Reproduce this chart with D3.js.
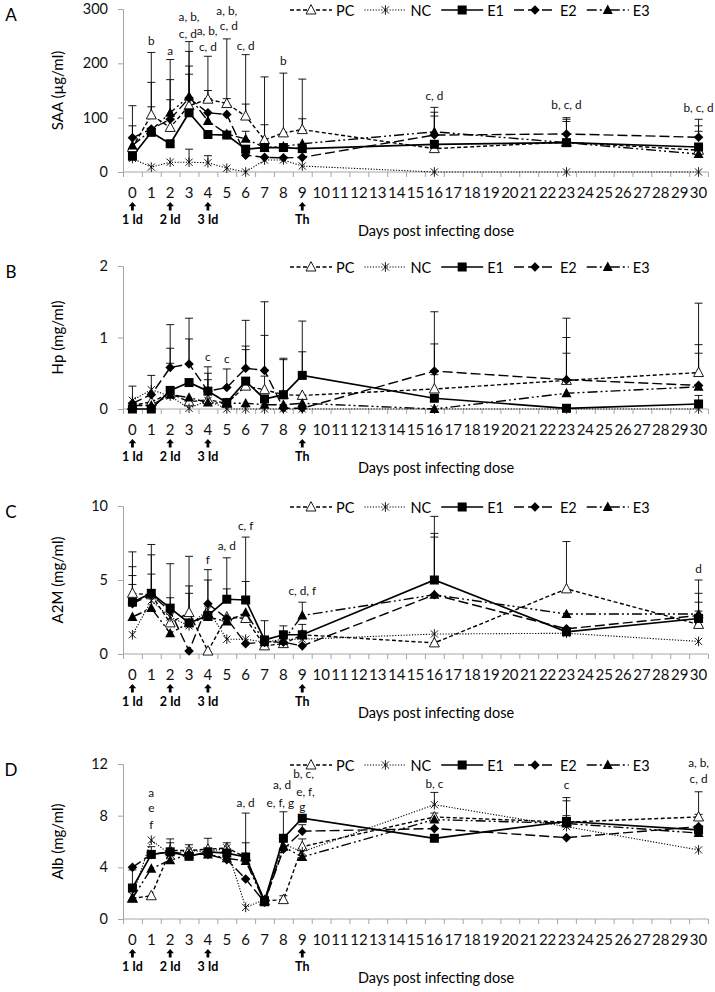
<!DOCTYPE html>
<html><head><meta charset="utf-8">
<script src="https://cdn.jsdelivr.net/npm/d3@7"></script>
<style>
html,body{margin:0;padding:0;background:#fff;}
svg{display:block;font-family:Lato,"Open Sans",sans-serif;}
</style></head>
<body><svg id="c" width="715" height="992"></svg>
<script>
// ---------- DATA ----------
const days = [0,1,2,3,4,5,6,7,8,9,16,23,30];
const allDays = d3.range(0,31);
const seriesNames = ["PC","NC","E1","E2","E3"];
const doseDays = [0,2,4,9];
const doseLabels = ["1 Id","2 Id","3 Id","Th"];
const xTitle = "Days post infecting dose";

// Panel A: SAA (µg/ml)
const saaPC = [45,105,82,122,134,126,103,59,72,78,43,55,40];
const saaNC = [25,9,18,18,17,7,0,22,22,11,0,0,0];
const saaE1 = [29,73,52,109,69,68,42,45,45,43,51,54,46];
const saaE2 = [63,79,97,136,109,106,31,27,26,27,68,70,64];
const saaE3 = [49,77,109,139,94,70,61,45,47,52,74,54,33];
const saaErr = [[0,122],[0,85],[1,220],[1,165],[1,120],[2,207],[2,170],[2,133],
  [3,240],[3,222],[3,195],[3,180],[3,42],[4,213],[4,150],[4,135],[4,30],[5,245],[5,135],
  [6,216],[6,125],[6,75],[7,175],[7,87],[8,182],[9,171],[9,98],
  [16,119],[16,110],[16,103],[23,100],[23,97],[23,93],[30,97],[30,85],[30,75]];
const saaNotes = [[1,"b",242],[2,"a",224],[3,"a, b,",286],[3,"c, d",255],[4,"a, b,",261],[4,"c, d",231],
  [5,"a, b,",298],[5,"c, d",269],[6,"c, d",233],[8,"b",206],[16,"c, d",141],[23,"b, c, d",125],[30,"b, c, d",119]];

// Panel B: Hp (mg/ml)
const hpPC = [0.05,0.1,0.22,0.1,0.13,0.08,0.32,0.27,0.2,0.19,0.28,0.4,0.51];
const hpNC = [0.12,0.27,0.18,0.01,0.12,0,0,0,0,0,0,0,0];
const hpE1 = [0,0,0.26,0.37,0.25,0.09,0.39,0.14,0.2,0.47,0.15,0.01,0.07];
const hpE2 = [0.08,0.2,0.58,0.63,0.25,0.3,0.57,0.54,0.01,0.01,0.53,0.41,0.33];
const hpE3 = [0.05,0.05,0.2,0.16,0.09,0.08,0.08,0.06,0.06,0.08,0,0.22,0.31];
const hpErr = [[0,0.32],[1,0.47],[2,1.18],[2,0.85],[2,0.64],[3,1.27],[3,0.98],[4,0.59],[4,0.5],[4,0.41],
  [5,0.56],[6,1.24],[6,0.88],[6,0.83],[7,1.5],[7,1.03],[7,0.46],[8,0.71],[8,0.69],[9,1.23],[9,0.8],
  [16,1.36],[16,0.91],[16,0.48],[23,1.27],[23,1.0],[23,0.78],[30,1.48],[30,0.9],[30,0.78],[30,0.19]];
const hpNotes = [[4,"c",0.73],[5,"c",0.70]];

// Panel C: A2M (mg/ml)
const a2mPC = [4.1,4.0,2.1,2.8,0.2,2.5,2.4,0.55,0.7,1.3,0.75,4.4,2.0];
const a2mNC = [1.3,3.6,2.5,1.9,3.0,1.0,1.0,0.8,1.0,1.0,1.35,1.4,0.85];
const a2mE1 = [3.5,4.1,3.1,2.1,2.6,3.7,3.65,0.95,1.3,1.3,5.0,1.5,2.4];
const a2mE2 = [3.4,4.0,2.9,0.2,3.4,2.4,0.7,0.8,0.8,0.55,4.0,1.7,2.6];
const a2mE3 = [2.5,3.1,1.4,2.1,2.5,2.2,2.8,0.8,0.9,2.6,4.0,2.7,2.7];
const a2mErr = [[0,6.9],[0,5.9],[0,5.3],[0,4.7],[1,7.4],[1,6.7],[1,5.4],[2,6.1],[2,3.8],[3,6.6],[3,4.6],[3,4.1],
  [4,5.7],[4,5.0],[5,6.5],[5,4.4],[6,7.9],[6,4.9],[7,2.25],[8,1.9],[9,3.5],[9,2.0],
  [16,9.3],[16,8.15],[16,7.9],[23,7.6],[30,5.0],[30,4.1],[30,3.5],[30,2.9]];
const a2mNotes = [[4,"f",6.4],[5,"a, d",7.3],[6,"c, f",8.7],[9,"c, d, f",4.3],[30,"d",5.8]];

// Panel D: Alb (mg/ml)
const albPC = [1.6,1.8,5.3,5.3,5.4,5.5,4.8,1.4,1.5,5.6,7.9,7.5,7.9];
const albNC = [1.8,6.1,5.0,5.3,5.2,5.5,0.9,1.5,5.8,5.2,8.85,7.15,5.35];
const albE1 = [2.4,5.0,5.2,4.85,5.2,5.1,4.8,1.4,6.25,7.8,6.25,7.55,6.9];
const albE2 = [4.0,5.0,5.2,5.0,5.0,4.6,3.1,1.3,5.4,6.8,7.0,6.3,7.15];
const albE3 = [1.6,3.9,4.55,5.0,5.0,4.7,4.5,1.3,5.6,4.8,7.7,7.4,6.65];
const albErr = [[0,3.8],[1,5.6],[2,6.2],[2,5.9],[3,5.75],[4,6.25],[5,5.9],[6,8.2],[6,5.9],[7,1.75],
  [8,8.3],[8,1.8],[9,7.3],[9,6.2],[16,9.8],[16,8.2],[23,9.4],[23,9.15],[23,8.0],[30,9.85],[30,8.1]];
const albNotes = [[1,"a",9.8],[1,"e",8.6],[1,"f",7.35],[6,"a, d",9.0],[8,"a, d",10.4],[8,"e, f, g",9.0],
  [9,"b, c,",11.3],[9,"e, f,",9.9],[9,"g",8.7],[16,"b, c",10.5],[23,"c",10.4],[30,"a, b,",12.1],[30,"c, d",10.9]];

// ---------- LAYOUT ----------
const panels = [
  {label:"A", title:"SAA (µg/ml)", max:300, ticks:[0,100,200,300], top:9, bottom:172,
   series:[saaPC,saaNC,saaE1,saaE2,saaE3], err:saaErr, notes:saaNotes},
  {label:"B", title:"Hp (mg/ml)", max:2, ticks:[0,1,2], top:266, bottom:409,
   series:[hpPC,hpNC,hpE1,hpE2,hpE3], err:hpErr, notes:hpNotes},
  {label:"C", title:"A2M (mg/ml)", max:10, ticks:[0,5,10], top:506, bottom:654,
   series:[a2mPC,a2mNC,a2mE1,a2mE2,a2mE3], err:a2mErr, notes:a2mNotes},
  {label:"D", title:"Alb (mg/ml)", max:12, ticks:[0,4,8,12], top:764, bottom:919,
   series:[albPC,albNC,albE1,albE2,albE3], err:albErr, notes:albNotes}
];

const styles = {
  PC:{dash:"4,2.5", w:1.4, marker:"openTri"},
  NC:{dash:"1.2,1.6", w:1.1, marker:"star"},
  E1:{dash:null, w:1.7, marker:"square"},
  E2:{dash:"10,4", w:1.4, marker:"diamond"},
  E3:{dash:"10,3,2,3,2,3", w:1.4, marker:"tri"}
};

const svg = d3.select("#c");
const X0 = 123, X1 = 708;
const xb = d3.scaleBand().domain(allDays).range([X0,X1]);
const xc = d => xb(d) + xb.bandwidth()/2;
const xEdge = d3.scaleLinear().domain([0,31]).range([X0,X1]);
const axisCol = "#a6a6a6";

function drawMarker(g, type, cx, cy){
  if(type==="square"){
    g.append("rect").attr("x",cx-4.5).attr("y",cy-4.5).attr("width",9).attr("height",9).attr("fill","#000");
  } else if(type==="diamond"){
    g.append("path").attr("d",`M${cx},${cy-4.8}L${cx+4.8},${cy}L${cx},${cy+4.8}L${cx-4.8},${cy}Z`).attr("fill","#000");
  } else if(type==="tri"){
    g.append("path").attr("d",`M${cx},${cy-5.4}L${cx+5},${cy+4}L${cx-5},${cy+4}Z`).attr("fill","#000");
  } else if(type==="openTri"){
    g.append("path").attr("d",`M${cx},${cy-5.4}L${cx+5},${cy+4}L${cx-5},${cy+4}Z`)
      .attr("fill","#fff").attr("stroke","#000").attr("stroke-width",0.9);
  } else if(type==="star"){
    const r=4.8, q=r*0.75;
    g.append("path").attr("d",`M${cx},${cy-r}V${cy+r}M${cx-q},${cy-q}L${cx+q},${cy+q}M${cx-q},${cy+q}L${cx+q},${cy-q}`)
      .attr("stroke","#000").attr("stroke-width",0.9).attr("fill","none");
  }
}

panels.forEach(p => {
  const y = d3.scaleLinear().domain([0,p.max]).range([p.bottom,p.top]);
  const g = svg.append("g");

  // panel label
  g.append("text").attr("x",11).attr("y",p.top+5).attr("dominant-baseline","central")
    .attr("text-anchor","middle").attr("font-size",17).text(p.label);

  // y title
  g.append("text").attr("transform",`translate(57,${(p.top+p.bottom)/2}) rotate(-90)`)
    .attr("text-anchor","middle").attr("dominant-baseline","central").attr("font-size",15).text(p.title);

  // y axis
  const ya = g.append("g").attr("transform",`translate(${X0},0)`)
    .call(d3.axisLeft(y).tickValues(p.ticks).tickSize(5).tickPadding(10).tickFormat(d3.format("d")));
  ya.selectAll("path,line").attr("stroke",axisCol);
  ya.selectAll("text").attr("font-size",14.5).attr("font-family","Lato,sans-serif").attr("fill","#111");

  // x axis: boundary ticks
  const xe = g.append("g").attr("transform",`translate(0,${p.bottom})`)
    .call(d3.axisBottom(xEdge).tickValues(d3.range(0,32)).tickSize(5).tickFormat(""));
  xe.selectAll("path,line").attr("stroke",axisCol);
  xe.select(".domain").attr("d",`M${X0},0H${X1}`);
  // x labels
  const xl = g.append("g").attr("transform",`translate(0,${p.bottom})`)
    .call(d3.axisBottom(xb).tickSize(0).tickPadding(15));
  xl.select(".domain").remove();
  xl.selectAll("text").attr("font-size",15).attr("font-family","Lato,sans-serif").attr("fill","#111");

  // dose arrows and labels
  doseDays.forEach((d,i) => {
    const cx = xc(d), ay = p.bottom+30;
    g.append("path").attr("d",`M${cx},${ay}L${cx+3.8},${ay+4.2}L${cx+1.4},${ay+4.2}L${cx+1.4},${ay+8.5}L${cx-1.4},${ay+8.5}L${cx-1.4},${ay+4.2}L${cx-3.8},${ay+4.2}Z`)
      .attr("fill","#000");
    g.append("text").attr("x",cx).attr("y",p.bottom+47).attr("dominant-baseline","central")
      .attr("text-anchor","middle").attr("font-size",12.5).attr("font-weight","bold").text(doseLabels[i]);
  });
  g.append("text").attr("x",436).attr("y",p.bottom+58).attr("dominant-baseline","central")
    .attr("text-anchor","middle").attr("font-size",14.5).text(xTitle);

  // error bars
  const eg = g.append("g").attr("stroke","#000").attr("stroke-width",0.9);
  p.err.forEach(([d,top]) => {
    const idx = days.indexOf(d);
    const vals = p.series.map(s=>s[idx]).filter(v=>v<top);
    const base = vals.length ? d3.max(vals) : top;
    const cx = xc(d);
    eg.append("line").attr("x1",cx).attr("x2",cx).attr("y1",y(base)).attr("y2",y(top));
    eg.append("line").attr("x1",cx-4).attr("x2",cx+4).attr("y1",y(top)).attr("y2",y(top));
  });

  // lines
  const line = d3.line().x(d=>xc(d[0])).y(d=>y(d[1]));
  seriesNames.forEach((name,si) => {
    const st = styles[name];
    const pts = days.map((d,i)=>[d,p.series[si][i]]);
    g.append("path").attr("d",line(pts)).attr("fill","none").attr("stroke","#000")
      .attr("stroke-width",st.w).attr("stroke-dasharray",st.dash);
  });
  // markers
  seriesNames.forEach((name,si) => {
    const st = styles[name];
    const mg = g.append("g");
    days.forEach((d,i)=> drawMarker(mg, st.marker, xc(d), y(p.series[si][i])));
  });

  // annotations
  const nts = p.notes.map(([d,t,v]) => g.append("text").attr("x",xc(d)).attr("y",y(v)).attr("text-anchor","middle")
      .attr("dominant-baseline","central").attr("font-size",11.8).attr("fill","#111").text(t));
  // nudge horizontally overlapping notes apart
  for(let i=0;i<nts.length;i++) for(let j=0;j<nts.length;j++){
    if(i===j) continue;
    const a = nts[i].node().getBBox(), b = nts[j].node().getBBox();
    if(a.x < b.x && Math.abs((a.y+a.height/2)-(b.y+b.height/2)) < a.height*0.8){
      const ov = a.x + a.width - b.x;
      if(ov > -2){
        const s = (ov+2)/2;
        nts[i].attr("x", +nts[i].attr("x") - s);
        nts[j].attr("x", +nts[j].attr("x") + s);
      }
    }
  }

  // legend
  let lx = 290;
  const ly = p.top + 1;
  seriesNames.forEach(name => {
    const st = styles[name];
    g.append("line").attr("x1",lx).attr("x2",lx+42).attr("y1",ly).attr("y2",ly)
      .attr("stroke","#000").attr("stroke-width",st.w).attr("stroke-dasharray",st.dash);
    drawMarker(g, st.marker, lx+21, ly);
    const t = g.append("text").attr("x",lx+46).attr("y",ly).attr("dominant-baseline","central")
      .attr("font-size",14.5).text(name);
    lx = lx + 46 + t.node().getComputedTextLength() + 10;
  });
});
</script></body></html>
